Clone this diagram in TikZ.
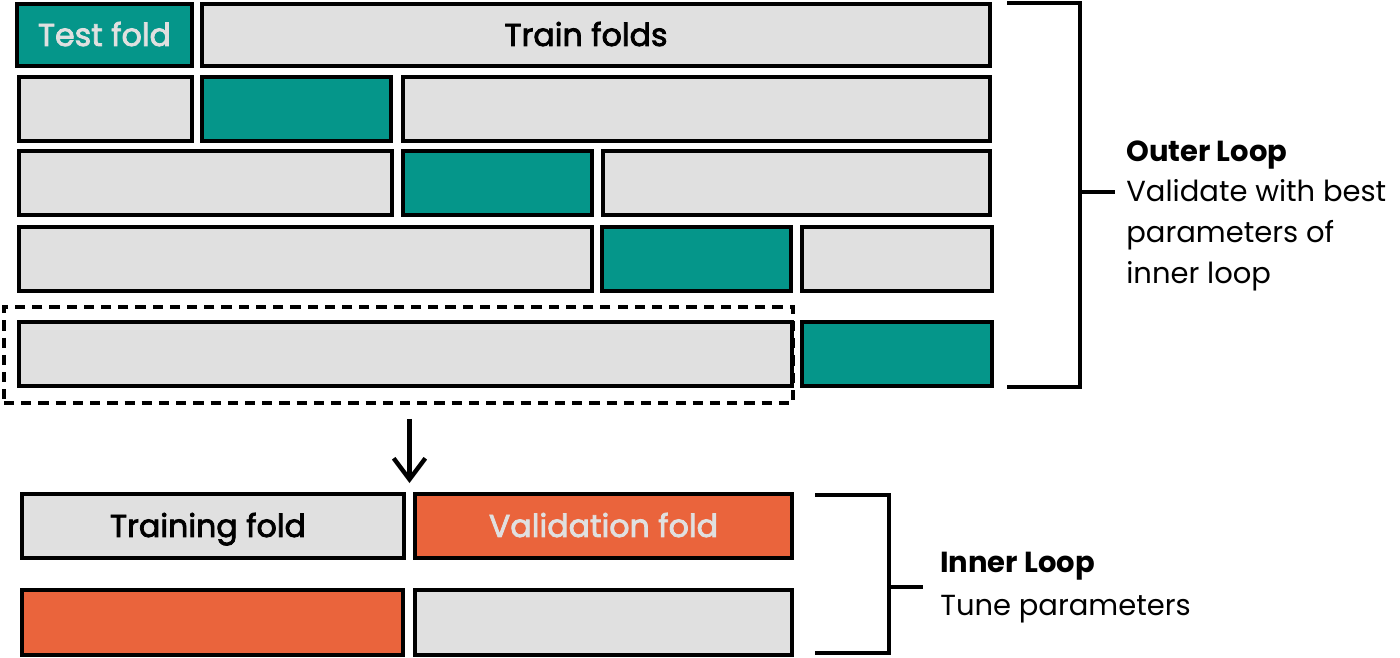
\documentclass[tikz,border=0pt]{standalone}
\usepackage{fontspec}
\setmainfont{Poppins}
\newfontfamily\foldfont[FakeBold=2.5]{Poppins}
\usetikzlibrary{arrows.meta,fit}
\definecolor{foldgray}{RGB}{224,224,224}
\definecolor{foldteal}{RGB}{5,150,138}
\definecolor{foldorange}{RGB}{234,100,60}

\begin{document}
\begin{tikzpicture}[x=0.02cm,y=-0.02cm,
  fold/.style={draw=black,line width=2.3pt,fill=foldgray,inner sep=0pt},
  foldtext/.style={inner sep=0pt,text height=12.5pt,text depth=0pt,font=\foldfont\fontsize{18}{22}\selectfont},
  dashbox/.style={draw=black,line width=2pt,dash pattern=on 5.8pt off 4pt,inner sep=0pt},
  brace/.style={line width=2.3pt},
  desc/.style={align=left,inner sep=0pt,anchor=north west,font=\fontsize{16.5}{23.3}\selectfont}]
\useasboundingbox (0,0) rectangle (1400,657);
\node[fold,fill=foldteal,fit={(17,4) (192,66)},label={[foldtext,text=foldgray]center:Test fold}] (r1a) {};
\node[fold,fit={(202,4) (990,66)},label={[foldtext,xshift=-0.2cm]center:Train folds}] (r1b) {};
\foreach \n/\a/\b/\y/\c in {r2a/19/192/77/foldgray, r2b/202/391/77/foldteal, r2c/403/990/77/foldgray,
  r3a/19/392/151/foldgray, r3b/403/592/151/foldteal, r3c/603/990/151/foldgray,
  r4a/19/592/227/foldgray, r4b/602/791/227/foldteal, r4c/802/992/227/foldgray,
  r5a/19/792/322/foldgray, r5b/802/992/322/foldteal}
  \node[fold,fill=\c,fit={(\a,\y) (\b,\y+64)}] (\n) {};
\node[dashbox,fit={(4,307) (793,403)}] (inner) {};
\node[fold,fit={(22,494) (404,558)},label={[foldtext,xshift=-0.1cm]center:Training fold}] (t1) {};
\node[fold,fill=foldorange,fit={(415,494) (792,558)},label={[foldtext,text=foldgray]center:Validation fold}] (v1) {};
\node[fold,fill=foldorange,fit={(22,590) (403,655)}] (v2) {};
\node[fold,fit={(415,590) (792,655)}] (t2) {};
\coordinate (split) at (409.5,494);
\draw[line width=2.5pt,-{Straight Barb[length=12pt,width=18pt]},shorten <=0.28cm,shorten >=0.22cm] (inner.south -| split) -- (split);
\coordinate (otop) at (1007,3);
\coordinate (obot) at (1007,387);
\coordinate (omid) at (1080,192);
\draw[brace] (otop) -| (omid |- obot) -- (obot);
\draw[brace] (omid) -- ++(35,0);
\node[desc] (outertxt) at (1126,140) {\textbf{Outer Loop}\\Validate with best\\parameters of\\inner loop};
\coordinate (itop) at (815,495);
\coordinate (ibot) at (815,653);
\coordinate (imid) at (889,587);
\draw[brace] (itop) -| (imid |- ibot) -- (ibot);
\draw[brace] (imid) -- ++(34,0);
\node[desc,font=\fontsize{16.5}{24.4}\selectfont] (innertxt) at (940,552) {\textbf{Inner Loop}\\Tune parameters};
\end{tikzpicture}
\end{document}
